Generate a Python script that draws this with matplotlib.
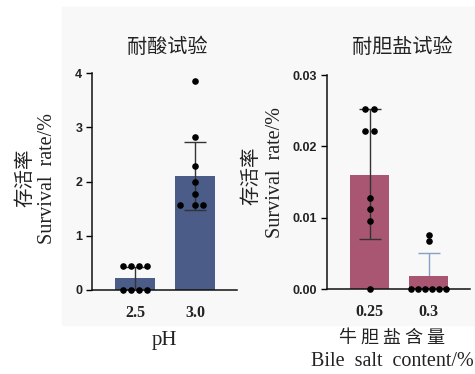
import matplotlib
matplotlib.use("Agg")
import matplotlib.pyplot as plt
from matplotlib.patches import Rectangle

# 耐酸试验
ph_labels = ["2.5", "3.0"]
ph_means = [0.22, 2.10]
ph_err_lo = [0.22, 0.62]
ph_err_hi = [0.21, 0.63]
ph_points = [
    [0.45, 0.45, 0.45, 0.45, 0.0, 0.0, 0.0, 0.0],
    [3.85, 2.82, 2.28, 2.00, 1.77, 1.57, 1.57, 1.57],
]
ph_offsets = [
    [-0.2, -0.07, 0.07, 0.2, -0.2, -0.07, 0.07, 0.2],
    [0, 0, 0, 0, 0, -0.25, 0, 0.14],
]

# 耐胆盐试验
bile_labels = ["0.25", "0.3"]
bile_means = [0.0160, 0.0018]
bile_err_lo = [0.0090, 0.0033]
bile_err_hi = [0.0093, 0.0033]
bile_points = [
    [0.0253, 0.0253, 0.0222, 0.0222, 0.0127, 0.0112, 0.0095, 0.0],
    [0.0076, 0.0067, 0.0, 0.0, 0.0, 0.0, 0.0, 0.0],
]
bile_offsets = [
    [-0.07, 0.07, -0.07, 0.07, 0, 0, 0, 0],
    [0, 0, -0.3, -0.18, -0.06, 0.06, 0.18, 0.3],
]

CJK = ["Noto Sans CJK SC", "DejaVu Sans"]
SERIF = ["Liberation Serif", "DejaVu Serif"]
TXT = "#222222"

fig = plt.figure(figsize=(4.75, 3.74), dpi=100)
fig.patch.set_facecolor("white")
W, H = 475, 374
bg = Rectangle((62 / W, 1 - 325 / H), (W - 62) / W, (325 - 7) / H,
               transform=fig.transFigure, color="#f8f8f8", zorder=-10)
fig.add_artist(bg)


def panel(rect, labels, means, lo, hi, points, offsets, color, ecolors, ezorders,
          ylim, yticks, yfmt):
    ax = fig.add_axes(rect)
    ax.set_facecolor("none")
    x = list(range(len(labels)))
    ax.bar(x, means, width=0.67, color=color, zorder=2)
    for i in x:
        ax.errorbar(i, means[i], yerr=[[lo[i]], [hi[i]]], fmt="none", ecolor=ecolors[i],
                    elinewidth=1, capsize=8, capthick=1, zorder=ezorders[i])
        ax.scatter([i + o for o in offsets[i]], points[i], s=14, color="black", zorder=4,
                   clip_on=False)
    ax.set_xlim(-0.72, 1.70)
    ax.set_ylim(*ylim)
    ax.set_yticks(yticks)
    ax.set_yticklabels([yfmt.format(t) for t in yticks], fontweight="bold",
                       family=["Liberation Sans"], fontsize=9, color=TXT)
    ax.set_xticks(x)
    ax.set_xticklabels(labels, fontweight="bold", family=SERIF, fontsize=11.5, color=TXT)
    ax.tick_params(axis="x", length=0, pad=11)
    ax.tick_params(axis="y", length=4, width=1, direction="out", pad=3)
    for s in ["top", "right"]:
        ax.spines[s].set_visible(False)
    for s in ["left", "bottom"]:
        ax.spines[s].set_linewidth(1.1)
        ax.spines[s].set_color("#111111")
    return ax


panel([92 / W, 1 - 290 / H, 145 / W, 217 / H], ph_labels, ph_means, ph_err_lo, ph_err_hi,
      ph_points, ph_offsets, "#4a5c87", ["#333333", "#333333"], [3, 3],
      (0, 4), [0, 1, 2, 3, 4], "{:g}")
panel([327 / W, 1 - 289 / H, 143 / W, 214 / H], bile_labels, bile_means, bile_err_lo, bile_err_hi,
      bile_points, bile_offsets, "#a85672", ["#333333", "#86a0c6"], [3, 1],
      (0, 0.03), [0, 0.01, 0.02, 0.03], "{:.2f}")


def ftext(x, y, s, fam, size, rot=0):
    fig.text(x / W, 1 - y / H, s, family=fam, fontsize=size, color=TXT, rotation=rot,
             ha="center", va="center")


ftext(167, 47, "耐酸试验", CJK, 14.5)
ftext(402, 47, "耐胆盐试验", CJK, 14.5)
ftext(25, 178, "存活率", CJK, 14, 90)
ftext(47, 178, "Survival  rate/%", SERIF, 14.5, 90)
ftext(251, 176, "存活率", CJK, 14, 90)
ftext(275, 172, "Survival  rate/%", SERIF, 14.5, 90)
ftext(164, 340, "pH", SERIF, 15)
ftext(392, 338, "牛 胆 盐 含 量", CJK, 13)
ftext(392, 361, "Bile  salt  content/%", SERIF, 14.5)

fig.savefig("out.png", dpi=100, facecolor="white")
